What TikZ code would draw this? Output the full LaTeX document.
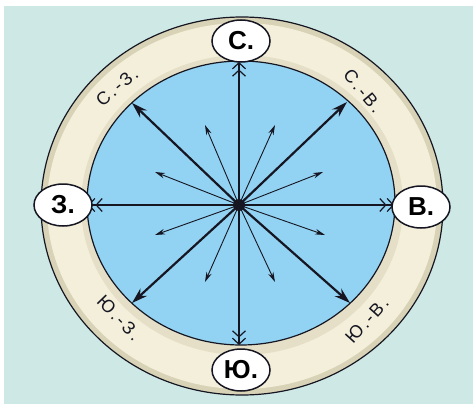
\documentclass[tikz,border=0pt]{standalone}
\usepackage{fontspec}
\setmainfont{Liberation Sans}
\usetikzlibrary{arrows.meta,shapes.geometric}
\definecolor{bgteal}{RGB}{206,233,229}
\definecolor{ringc}{RGB}{243,239,218}
\definecolor{ringd}{RGB}{216,210,182}
\definecolor{skyb}{RGB}{146,210,242}
\definecolor{ink}{RGB}{22,22,34}
\newcommand{\lsp}{\kern2.2pt}
\tikzset{
  mainarr/.style={draw=ink, line width=1.6pt, -{Straight Barb[length=6pt,width=13pt,line width=1.2pt] Straight Barb[length=6pt,width=13pt,line width=1.2pt]}},
  diagarr/.style={draw=ink, line width=2.2pt, -{Stealth[length=16pt,width=10pt]}},
  thinarr/.style={draw=ink, line width=0.9pt, -{Stealth[length=10pt,width=5.5pt]}},
  dirlabel/.style={draw=ink, line width=1.5pt, fill=white, ellipse, minimum width=58pt, minimum height=42pt, inner sep=0pt, font=\fontsize{26}{26}\selectfont\bfseries},
  ringlabel/.style={font=\fontsize{18}{18}\selectfont, text=ink, inner sep=0pt},
}
\begin{document}
\begin{tikzpicture}[x=1pt,y=-1pt]
\useasboundingbox (0,0) rectangle (473,404);
\fill[white] (0,0) rectangle (473,404);
\fill[bgteal] (4,6) rectangle (473,404);
% ring
\fill[ringd] (242,206) ellipse [x radius=201, y radius=189];
\fill[ringc] (242,206) ellipse [x radius=195, y radius=183];
\fill[ringd!55!ringc] (242,205) ellipse [x radius=161, y radius=150];
\draw[ink, line width=1.2pt] (242,206) ellipse [x radius=201, y radius=189];
\fill[skyb] (241,203) ellipse [x radius=154, y radius=142];
\draw[ink, line width=1.2pt] (241,203) ellipse [x radius=154, y radius=142];
% center and tips
\coordinate (O) at (239,205);
\coordinate (tN) at (239,62);
\coordinate (tS) at (239,345);
\coordinate (tW) at (88,205);
\coordinate (tE) at (394,205);
\coordinate (tNE) at (347,102);
\coordinate (tNW) at (132,103);
\coordinate (tSW) at (132,303);
\coordinate (tSE) at (350,303);
\coordinate (a1) at (205,125);
\coordinate (a2) at (275,125);
\coordinate (a3) at (155,172);
\coordinate (a4) at (323,172);
\coordinate (a5) at (155,235);
\coordinate (a6) at (325,235);
\coordinate (a7) at (205,282);
\coordinate (a8) at (275,282);
\foreach \t in {a1,a2,a3,a4,a5,a6,a7,a8} \draw[thinarr] (O) -- (\t);
\foreach \t in {tNE,tNW,tSW,tSE} \draw[diagarr] (O) -- (\t);
\foreach \t in {tN,tS,tW,tE} \draw[mainarr] (O) -- (\t);
\fill[ink] (O) circle (6);
% labels
\node[dirlabel] (N) at (241,41) {С.};
\node[dirlabel] (W) at (63,205) {З.};
\node[dirlabel] (E) at (421,207) {В.};
\node[dirlabel] (S) at (241,370) {Ю.};
\node[ringlabel, rotate=40] (NW) at (117,87) {С\lsp.\lsp-\lsp З\lsp.};
\node[ringlabel, rotate=-50] (NE) at (363,91) {С\lsp.\lsp-\lsp В\lsp.};
\node[ringlabel, rotate=-46] (SW) at (119,318) {Ю\lsp.\lsp-\lsp З\lsp.};
\node[ringlabel, rotate=48] (SE) at (367,320) {Ю\lsp.\lsp-\lsp В\lsp.};
\end{tikzpicture}
\end{document}
